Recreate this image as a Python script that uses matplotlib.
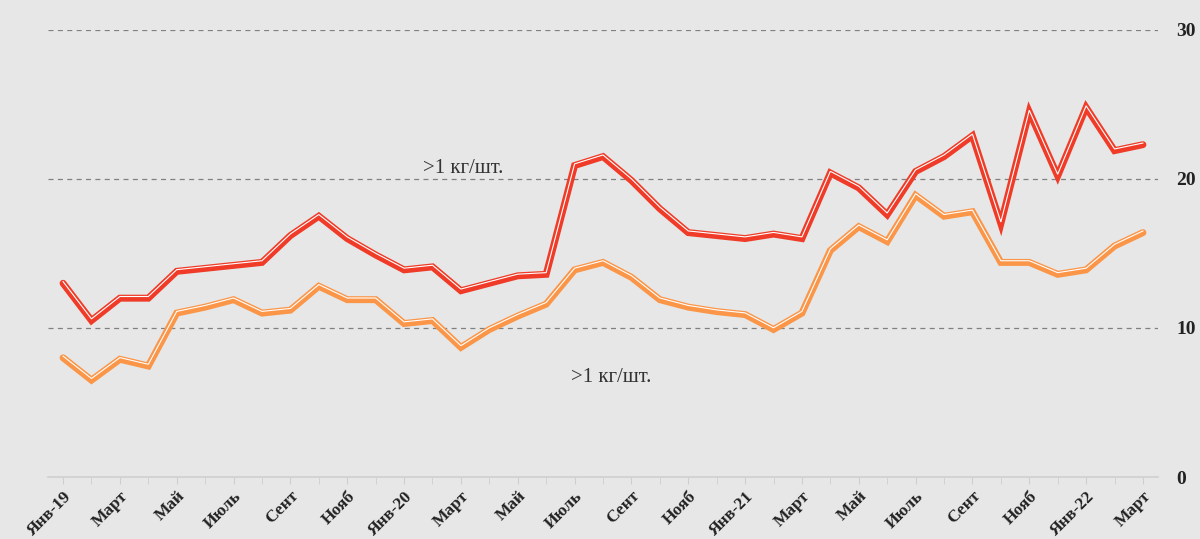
import matplotlib.pyplot as plt
import matplotlib.patheffects as pe

# monthly values, Jan 2019 - Mar 2022
big = [13.0, 10.5, 12.0, 12.0, 13.8, 14.0, 14.2, 14.4, 16.2, 17.5, 16.0, 14.9,
       13.9, 14.1, 12.5, 13.0, 13.5, 13.6, 20.9, 21.5, 19.9, 18.0, 16.4, 16.2,
       16.0, 16.3, 16.0, 20.4, 19.4, 17.6, 20.5, 21.5, 22.9, 17.0, 24.5, 20.2,
       24.8, 21.9, 22.3]
small = [8.0, 6.5, 7.9, 7.45, 11.0, 11.4, 11.9, 11.0, 11.2, 12.8, 11.9, 11.9,
         10.3, 10.5, 8.7, 9.9, 10.8, 11.6, 13.9, 14.4, 13.4, 11.9, 11.4, 11.1,
         10.9, 9.9, 11.0, 15.2, 16.8, 15.8, 18.9, 17.5, 17.8, 14.4, 14.4, 13.6,
         13.9, 15.5, 16.4]
tick_labels = ['Янв-19', 'Март', 'Май', 'Июль', 'Сент', 'Нояб',
               'Янв-20', 'Март', 'Май', 'Июль', 'Сент', 'Нояб',
               'Янв-21', 'Март', 'Май', 'Июль', 'Сент', 'Нояб',
               'Янв-22', 'Март']
label_text = '>1 кг/шт.'

bg = '#e6e7e6'
red = '#ef3b27'
orange = '#fb9548'

plt.rcParams['font.family'] = ['Liberation Serif', 'DejaVu Serif']

fig = plt.figure(figsize=(12, 5.39), dpi=100, facecolor=bg)
ax = fig.add_axes([0.04, 0.115, 0.925, 0.8295], facecolor=bg)

x = list(range(len(big)))

# thick line with a thin white stripe slightly above centre
for series, col in [(small, orange), (big, red)]:
    ax.plot(x, series, color=col, lw=5, solid_capstyle='round',
            solid_joinstyle='miter', zorder=3)
    ax.plot(x, series, color='white', lw=0.8, solid_joinstyle='miter', zorder=4,
            path_effects=[pe.Stroke(offset=(0, 1.2), linewidth=0.8, foreground='white')])

ax.set_xlim(-0.53, 38.53)
ax.set_ylim(0, 30)

ax.set_yticks([0, 10, 20, 30])
ax.yaxis.tick_right()
ax.tick_params(axis='y', length=0, pad=13, labelsize=14)
for t in ax.get_yticklabels():
    t.set_fontweight('bold')
    t.set_color('#222222')
    t.set_horizontalalignment('left')

for yv in [10, 20, 30]:
    ax.axhline(yv, color='#808080', lw=0.9, ls=(0, (4, 3.5)), zorder=1)

ax.set_xticks(x, minor=True)
ax.set_xticks(range(0, len(big), 2))
ax.set_xticklabels(tick_labels, rotation=45, ha='right', rotation_mode='anchor',
                   fontweight='bold', fontsize=12.5, color='#222222')
ax.tick_params(axis='x', which='both', length=5, color='#cfcfcf', pad=3)

for s in ['top', 'left', 'right']:
    ax.spines[s].set_visible(False)
ax.spines['bottom'].set_color('#cfcfcf')
ax.spines['bottom'].set_linewidth(1.2)

ax.text(14.07, 20.7, label_text, ha='center', va='center', fontsize=15, color='#333333')
ax.text(19.3, 6.7, label_text, ha='center', va='center', fontsize=15, color='#333333')

fig.savefig('out.png', dpi=100, facecolor=bg)
